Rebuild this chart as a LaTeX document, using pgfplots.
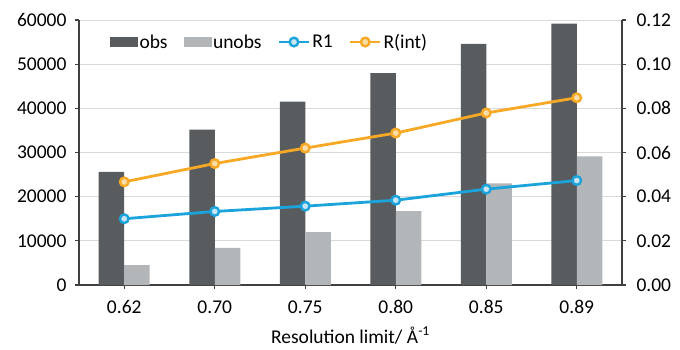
\documentclass[border=0pt]{standalone}
\usepackage{pgfplots}
\pgfplotsset{compat=1.18}
\usepackage{fontspec}
\setmainfont{Carlito}

\definecolor{obscol}{HTML}{585C5E}
\definecolor{unobscol}{HTML}{B3B6B8}
\definecolor{rone}{HTML}{1BA3DC}
\definecolor{ronefill}{HTML}{C8E4F2}
\definecolor{rint}{HTML}{F7A824}
\definecolor{rintfill}{HTML}{FBDDA8}
\definecolor{gridcol}{HTML}{D9D9D9}
\definecolor{axiscol}{HTML}{404040}

\pgfplotsset{
  common/.style={
    scale only axis,
    width=543pt, height=265pt,
    xmin=-0.5, xmax=5.5,
    ymin=0,
    axis line style={axiscol, line width=1.2pt},
    tick style={axiscol, line width=1.2pt},
    tick align=outside,
    major tick length=4pt,
    scaled y ticks=false,
    every tick label/.append style={font=\fontsize{19.5}{23}\selectfont, text=black},
    /pgf/number format/assume math mode=true,
    /pgf/number format/1000 sep={},
  },
}

\begin{document}
\begin{tikzpicture}
\useasboundingbox (-79pt,-64pt) rectangle (601pt,285pt);

% counts: observed and unobserved reflections (left axis)
\begin{axis}[
  common,
  axis y line*=left,
  axis x line*=bottom,
  ymax=60000,
  ytick={0,10000,...,60000},
  ymajorgrids,
  grid style={gridcol, line width=0.9pt},
  xtick={0,...,5},
  xticklabels={0.62,0.70,0.75,0.80,0.85,0.89},
  xticklabel style={yshift=-8pt},
  yticklabel style={xshift=-5pt, /pgf/number format/fixed},
  xlabel={Resolution limit/ Å\textsuperscript{-1}},
  xlabel style={font=\fontsize{19.5}{23}\selectfont, yshift=-6pt},
  bar width=25.5pt,
]
\addplot[ybar, fill=obscol, draw=none, bar shift=-12.75pt]
  coordinates {(0,25600) (1,35200) (2,41500) (3,48000) (4,54600) (5,59200)};
\addplot[ybar, fill=unobscol, draw=none, bar shift=12.75pt]
  coordinates {(0,4500) (1,8400) (2,12000) (3,16700) (4,23000) (5,29100)};
\end{axis}

% agreement factors (right axis)
\begin{axis}[
  common,
  axis y line*=right,
  axis x line=none,
  ymax=0.12,
  ytick={0,0.02,...,0.121},
  yticklabel style={xshift=7pt, /pgf/number format/fixed, /pgf/number format/fixed zerofill, /pgf/number format/precision=2},
  legend columns=-1,
  legend style={
    draw=none, fill=none, inner sep=0pt,
    at={(rel axis cs:0.057,0.917)}, anchor=west,
    font=\fontsize{19.5}{23}\selectfont,
    nodes={inner xsep=2pt, inner ysep=0pt},
    /tikz/every even column/.style={column sep=14pt},
  },
]
\addlegendimage{legend image code/.code={\fill[obscol] (0pt,-4.5pt) rectangle (27pt,4.5pt);}}
\addlegendentry{obs}
\addlegendimage{legend image code/.code={\fill[unobscol] (0pt,-4.5pt) rectangle (27pt,4.5pt);}}
\addlegendentry{unobs}
\addplot[rone, line width=2.8pt, mark=*, mark size=4.3pt,
  mark options={fill=ronefill, draw=rone, line width=2.4pt},
  legend image code/.code={\draw[rone, line width=2.8pt] (0pt,0pt) -- (30pt,0pt);
    \draw[rone, line width=2.4pt, fill=ronefill] (15pt,0pt) circle (4.3pt);}]
  coordinates {(0,0.0300) (1,0.0333) (2,0.0357) (3,0.0384) (4,0.0434) (5,0.0473)};
\addlegendentry{R1}
\addplot[rint, line width=2.8pt, mark=*, mark size=4.3pt,
  mark options={fill=rintfill, draw=rint, line width=2.4pt},
  legend image code/.code={\draw[rint, line width=2.8pt] (0pt,0pt) -- (30pt,0pt);
    \draw[rint, line width=2.4pt, fill=rintfill] (15pt,0pt) circle (4.3pt);}]
  coordinates {(0,0.0467) (1,0.0550) (2,0.0620) (3,0.0688) (4,0.0779) (5,0.0848)};
\addlegendentry{R(int)}
\end{axis}
\end{tikzpicture}
\end{document}
